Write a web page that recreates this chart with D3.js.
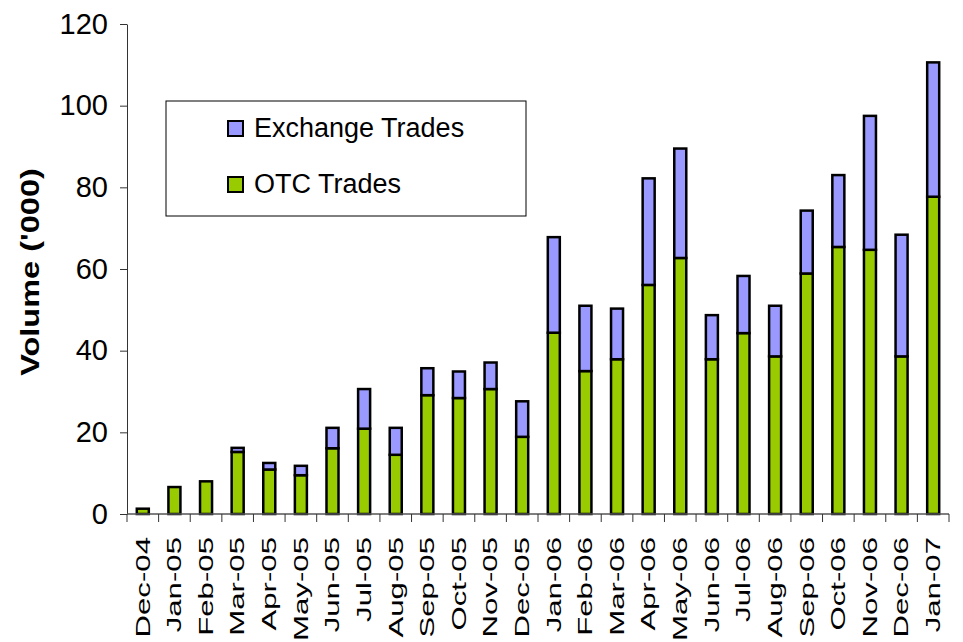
<!DOCTYPE html>
<html>
<head>
<meta charset="utf-8">
<script src="https://cdn.jsdelivr.net/npm/d3@7"></script>
<style>
  body { margin: 0; background: #fff; }
  text { font-family: Arial, "Liberation Sans", sans-serif; }
</style>
</head>
<body>
<div id="chart"></div>
<script>
// data (thousands of trades)
var months = ["Dec-04", "Jan-05", "Feb-05", "Mar-05", "Apr-05", "May-05", "Jun-05", "Jul-05",
    "Aug-05", "Sep-05", "Oct-05", "Nov-05", "Dec-05", "Jan-06", "Feb-06", "Mar-06", "Apr-06",
    "May-06", "Jun-06", "Jul-06", "Aug-06", "Sep-06", "Oct-06", "Nov-06", "Dec-06", "Jan-07"];
var otcTrades = [1.3, 6.6, 8.0, 15.2, 10.9, 9.5, 16.1, 20.9, 14.5, 29.1, 28.4, 30.6, 18.9,
    44.4, 35.0, 37.9, 56.1, 62.7, 37.9, 44.3, 38.6, 58.9, 65.4, 64.7, 38.6, 77.7];
var exchangeTrades = [0, 0, 0, 1.0, 1.6, 2.3, 5.0, 9.7, 6.6, 6.6, 6.5, 6.5, 8.7,
    23.4, 16.0, 12.4, 26.1, 26.8, 10.8, 14.0, 12.4, 15.4, 17.6, 32.8, 29.8, 32.9];
var yTicks = [0, 20, 40, 60, 80, 100, 120];
var seriesNames = ["OTC Trades", "Exchange Trades"];
var colors = { "OTC Trades": "#99cc00", "Exchange Trades": "#9999ff" };

var width = 963, height = 642;
var plot = { left: 127, right: 949, top: 24, bottom: 514 };

var svg = d3.select("#chart").append("svg")
    .attr("width", width)
    .attr("height", height);

var rows = months.map(function(m, i) {
    return { month: m, "OTC Trades": otcTrades[i], "Exchange Trades": exchangeTrades[i] };
});

var x = d3.scaleBand()
    .domain(months)
    .range([plot.left, plot.right])
    .paddingInner(0.62)
    .paddingOuter(0.31);

var y = d3.scaleLinear()
    .domain([0, 120])
    .range([plot.bottom, plot.top]);

var layers = d3.stack().keys(seriesNames)(rows);

// bars
svg.selectAll(".layer")
    .data(layers)
    .enter().append("g")
    .attr("class", "layer")
    .attr("fill", function(d) { return colors[d.key]; })
    .selectAll("rect")
    .data(function(d) { return d.filter(function(p) { return p[1] - p[0] > 0; }); })
    .enter().append("rect")
    .attr("x", function(d) { return x(d.data.month); })
    .attr("y", function(d) { return y(d[1]); })
    .attr("width", x.bandwidth())
    .attr("height", function(d) { return y(d[0]) - y(d[1]); })
    .attr("stroke", "#000")
    .attr("stroke-width", 2.5);

// y axis
var yAxis = svg.append("g")
    .attr("transform", "translate(" + plot.left + ",0)")
    .call(d3.axisLeft(y).tickValues(yTicks).tickSize(7).tickPadding(12).tickSizeOuter(0));
yAxis.select(".domain").attr("stroke", "#333");
yAxis.selectAll(".tick line").attr("stroke", "#333");
yAxis.selectAll(".tick text")
    .style("font-size", "29px")
    .attr("fill", "#000");

// x axis: line and ticks at category boundaries
svg.append("line")
    .attr("x1", plot.left).attr("x2", plot.right)
    .attr("y1", plot.bottom).attr("y2", plot.bottom)
    .attr("stroke", "#555")
    .attr("stroke-width", 1.5);

svg.selectAll(".xtick")
    .data(d3.range(months.length + 1))
    .enter().append("line")
    .attr("class", "xtick")
    .attr("x1", function(i) { return plot.left + i * x.step(); })
    .attr("x2", function(i) { return plot.left + i * x.step(); })
    .attr("y1", plot.bottom)
    .attr("y2", plot.bottom + 8)
    .attr("stroke", "#333");

svg.selectAll(".xlabel")
    .data(months)
    .enter().append("text")
    .attr("class", "xlabel")
    .attr("transform", function(d) {
        return "translate(" + (x(d) + x.bandwidth() / 2) + "," + 537 + ") rotate(-90) scale(1.6,1)";
    })
    .attr("text-anchor", "end")
    .attr("dy", "0.35em")
    .style("font-size", "19.5px")
    .text(function(d) { return d; });

// y title
svg.append("text")
    .attr("transform", "translate(30,272) rotate(-90) scale(1.25,1)")
    .attr("text-anchor", "middle")
    .attr("dy", "0.35em")
    .style("font-size", "26px")
    .style("font-weight", "bold")
    .text("Volume ('000)");

// legend
var legend = svg.append("g");
legend.append("rect")
    .attr("x", 166).attr("y", 101)
    .attr("width", 360).attr("height", 115)
    .attr("fill", "#fff")
    .attr("stroke", "#000")
    .attr("stroke-width", 1);

var legendItems = ["Exchange Trades", "OTC Trades"];
legend.selectAll(".swatch")
    .data(legendItems)
    .enter().append("rect")
    .attr("class", "swatch")
    .attr("x", 228)
    .attr("y", function(d, i) { return 121 + i * 56; })
    .attr("width", 15).attr("height", 15)
    .attr("fill", function(d) { return colors[d]; })
    .attr("stroke", "#000")
    .attr("stroke-width", 2);

legend.selectAll(".label")
    .data(legendItems)
    .enter().append("text")
    .attr("class", "label")
    .attr("x", 254)
    .attr("y", function(d, i) { return 137 + i * 56; })
    .style("font-size", "27px")
    .text(function(d) { return d; });
</script>
</body>
</html>
